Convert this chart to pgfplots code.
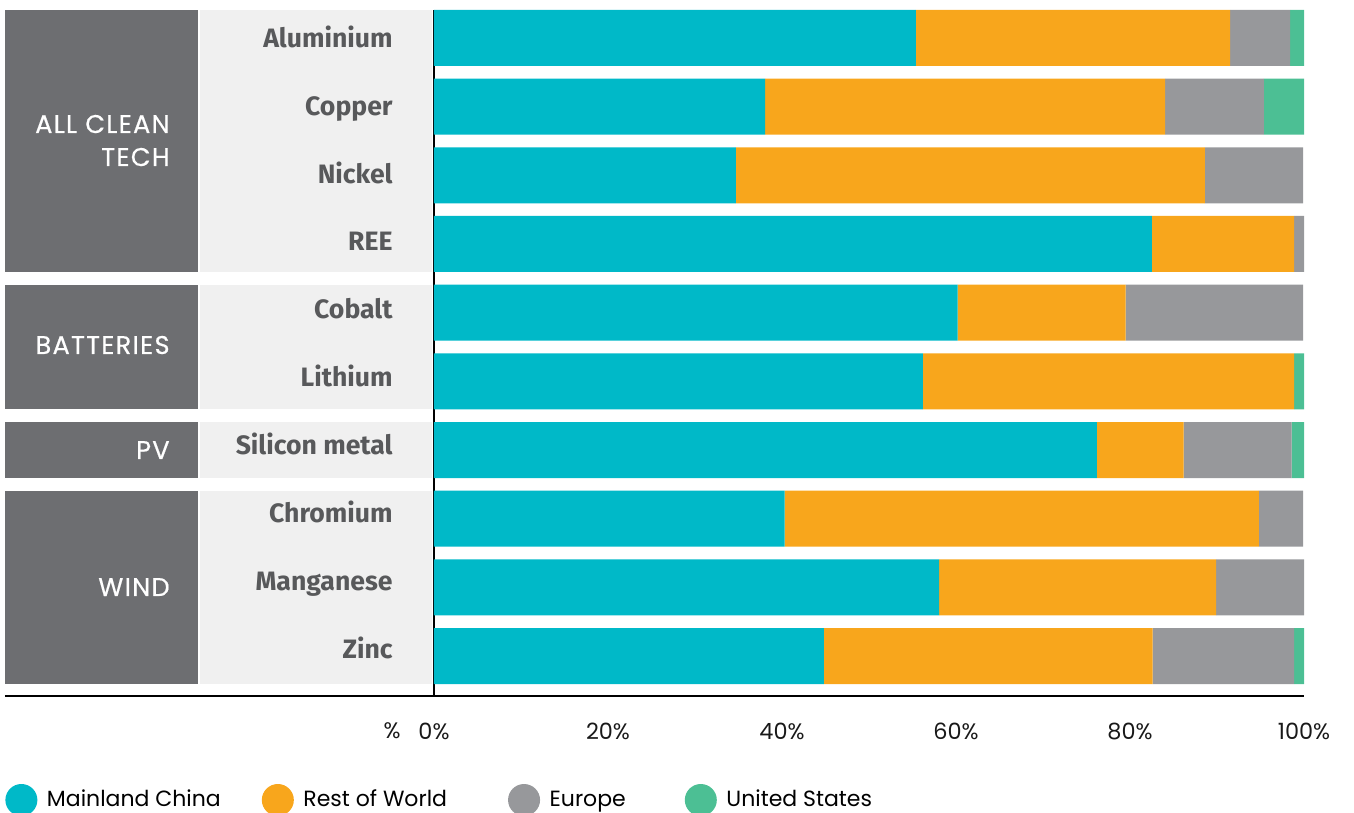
\documentclass[border=0pt]{standalone}
\usepackage{pgfplots}
\usepackage{pgfplotstable}
\pgfplotsset{compat=1.18}
\usepackage{fontspec}
\setmainfont{Poppins}
\newfontfamily\fira{Fira Sans}
\newfontfamily\grpfont[LetterSpace=5, FakeBold=0.5]{Poppins}
\definecolor{cChina}{HTML}{00B9C8}
\definecolor{cRoW}{HTML}{F8A61C}
\definecolor{cEur}{HTML}{97989B}
\definecolor{cUS}{HTML}{4CBF94}
\definecolor{darkpanel}{HTML}{6D6E71}
\definecolor{lightpanel}{HTML}{F0F0F0}
\definecolor{cattext}{HTML}{58595B}
\tikzset{grouplab/.style={font=\grpfont\fontsize{12.8}{15}\selectfont, text=white, anchor=base east, inner sep=0pt}}
\pgfplotsset{circlegend/.style={legend image code/.code={\fill[##1] (8pt,0pt) circle (8pt);}}}
\pgfplotstableread{
y china row eur us
0 55.4 36.1 6.9 1.6
1 38.05 46.0 11.35 4.6
2 34.7 53.9 11.3 0
3 82.5 16.35 1.15 0
4 60.2 19.3 20.4 0
5 56.2 42.65 0 1.15
6 76.2 9.97 12.42 1.41
7 40.3 54.5 5.1 0
8 58.05 31.85 10.1 0
9 44.8 37.8 16.25 1.15
}\datatable
\begin{document}
\begin{tikzpicture}
% background panels (axis origin at 0,0; 1px = 0.5pt)
\fill[lightpanel] (-117pt,343pt) rectangle (-1pt,212pt);
\fill[lightpanel] (-117pt,205.65pt) rectangle (-1pt,143.3pt);
\fill[lightpanel] (-117pt,137pt) rectangle (-1pt,109pt);
\fill[lightpanel] (-117pt,102.65pt) rectangle (-1pt,6pt);
\fill[darkpanel] (-214.5pt,343pt) rectangle (-118pt,212pt);
\fill[darkpanel] (-214.5pt,205.65pt) rectangle (-118pt,143.3pt);
\fill[darkpanel] (-214.5pt,137pt) rectangle (-118pt,109pt);
\fill[darkpanel] (-214.5pt,102.65pt) rectangle (-118pt,6pt);
\begin{axis}[
 at={(0pt,0pt)}, anchor=south west,
 xbar stacked,
 scale only axis,
 width=435pt, height=343pt,
 xmin=0, xmax=100,
 ymin=-0.4077, ymax=9.5825,
 y dir=reverse,
 bar width=0.8155,
 clip=false,
 axis x line=bottom, axis y line=left,
 axis line style={-, line width=0.75pt, black},
 x axis line style={line width=1pt},
 ytick={0,0.989,1.978,2.966,3.955,4.944,5.933,6.921,7.910,8.899},
 yticklabels={Aluminium,Copper,Nickel,REE,Cobalt,Lithium,Silicon metal,Chromium,Manganese,Zinc},
 yticklabel style={font=\fira\fontsize{13.3}{16}\selectfont\bfseries, text=cattext, anchor=base east, inner sep=0pt, xshift=-20.5pt, yshift=-4.6pt},
 xtick={0,20,...,100},
 xticklabel={\pgfmathprintnumber{\tick}\%},
 /pgf/number format/assume math mode=true,
 xticklabel style={font=\fontsize{11.2}{13}\selectfont, text=black!90, anchor=base, inner sep=0pt, yshift=-21.5pt},
 major tick length=0pt,
 tick style={draw=none},
 legend columns=4,
 legend style={at={(-0.4931,-0.1516)}, anchor=west, draw=none, fill=none, inner sep=0pt,
   font=\fontsize{11}{13}\selectfont,
   /tikz/every odd column/.append style={column sep=2.8pt},
   /tikz/column 2/.style={column sep=18.5pt},
   /tikz/column 4/.style={column sep=28.5pt},
   /tikz/column 6/.style={column sep=27.5pt}},
]
\addplot[fill=cChina, draw=none, circlegend] table[x=china, y=y]{\datatable};
\addplot[fill=cRoW, draw=none, circlegend] table[x=row, y=y]{\datatable};
\addplot[fill=cEur, draw=none, circlegend] table[x=eur, y=y]{\datatable};
\addplot[fill=cUS, draw=none, circlegend] table[x=us, y=y]{\datatable};
\legend{Mainland China, Rest of World, Europe, United States}
\end{axis}
\node[grouplab] at (-132pt,281.5pt) {ALL CLEAN};
\node[grouplab] at (-132pt,265pt) {TECH};
\node[grouplab] at (-132pt,171pt) {BATTERIES};
\node[grouplab] at (-132pt,118.5pt) {PV};
\node[grouplab] at (-132pt,50pt) {WIND};
\draw[line width=1pt] (-214.5pt,0pt) -- (0pt,0pt);
\node[anchor=base east, inner sep=0pt, font=\fontsize{11.2}{13}\selectfont, text=black!90] at (-16.5pt,-21.5pt) {\%};
\pgfresetboundingbox
\useasboundingbox (-217pt,348pt) rectangle (460pt,-58.5pt);
\end{tikzpicture}
\end{document}
